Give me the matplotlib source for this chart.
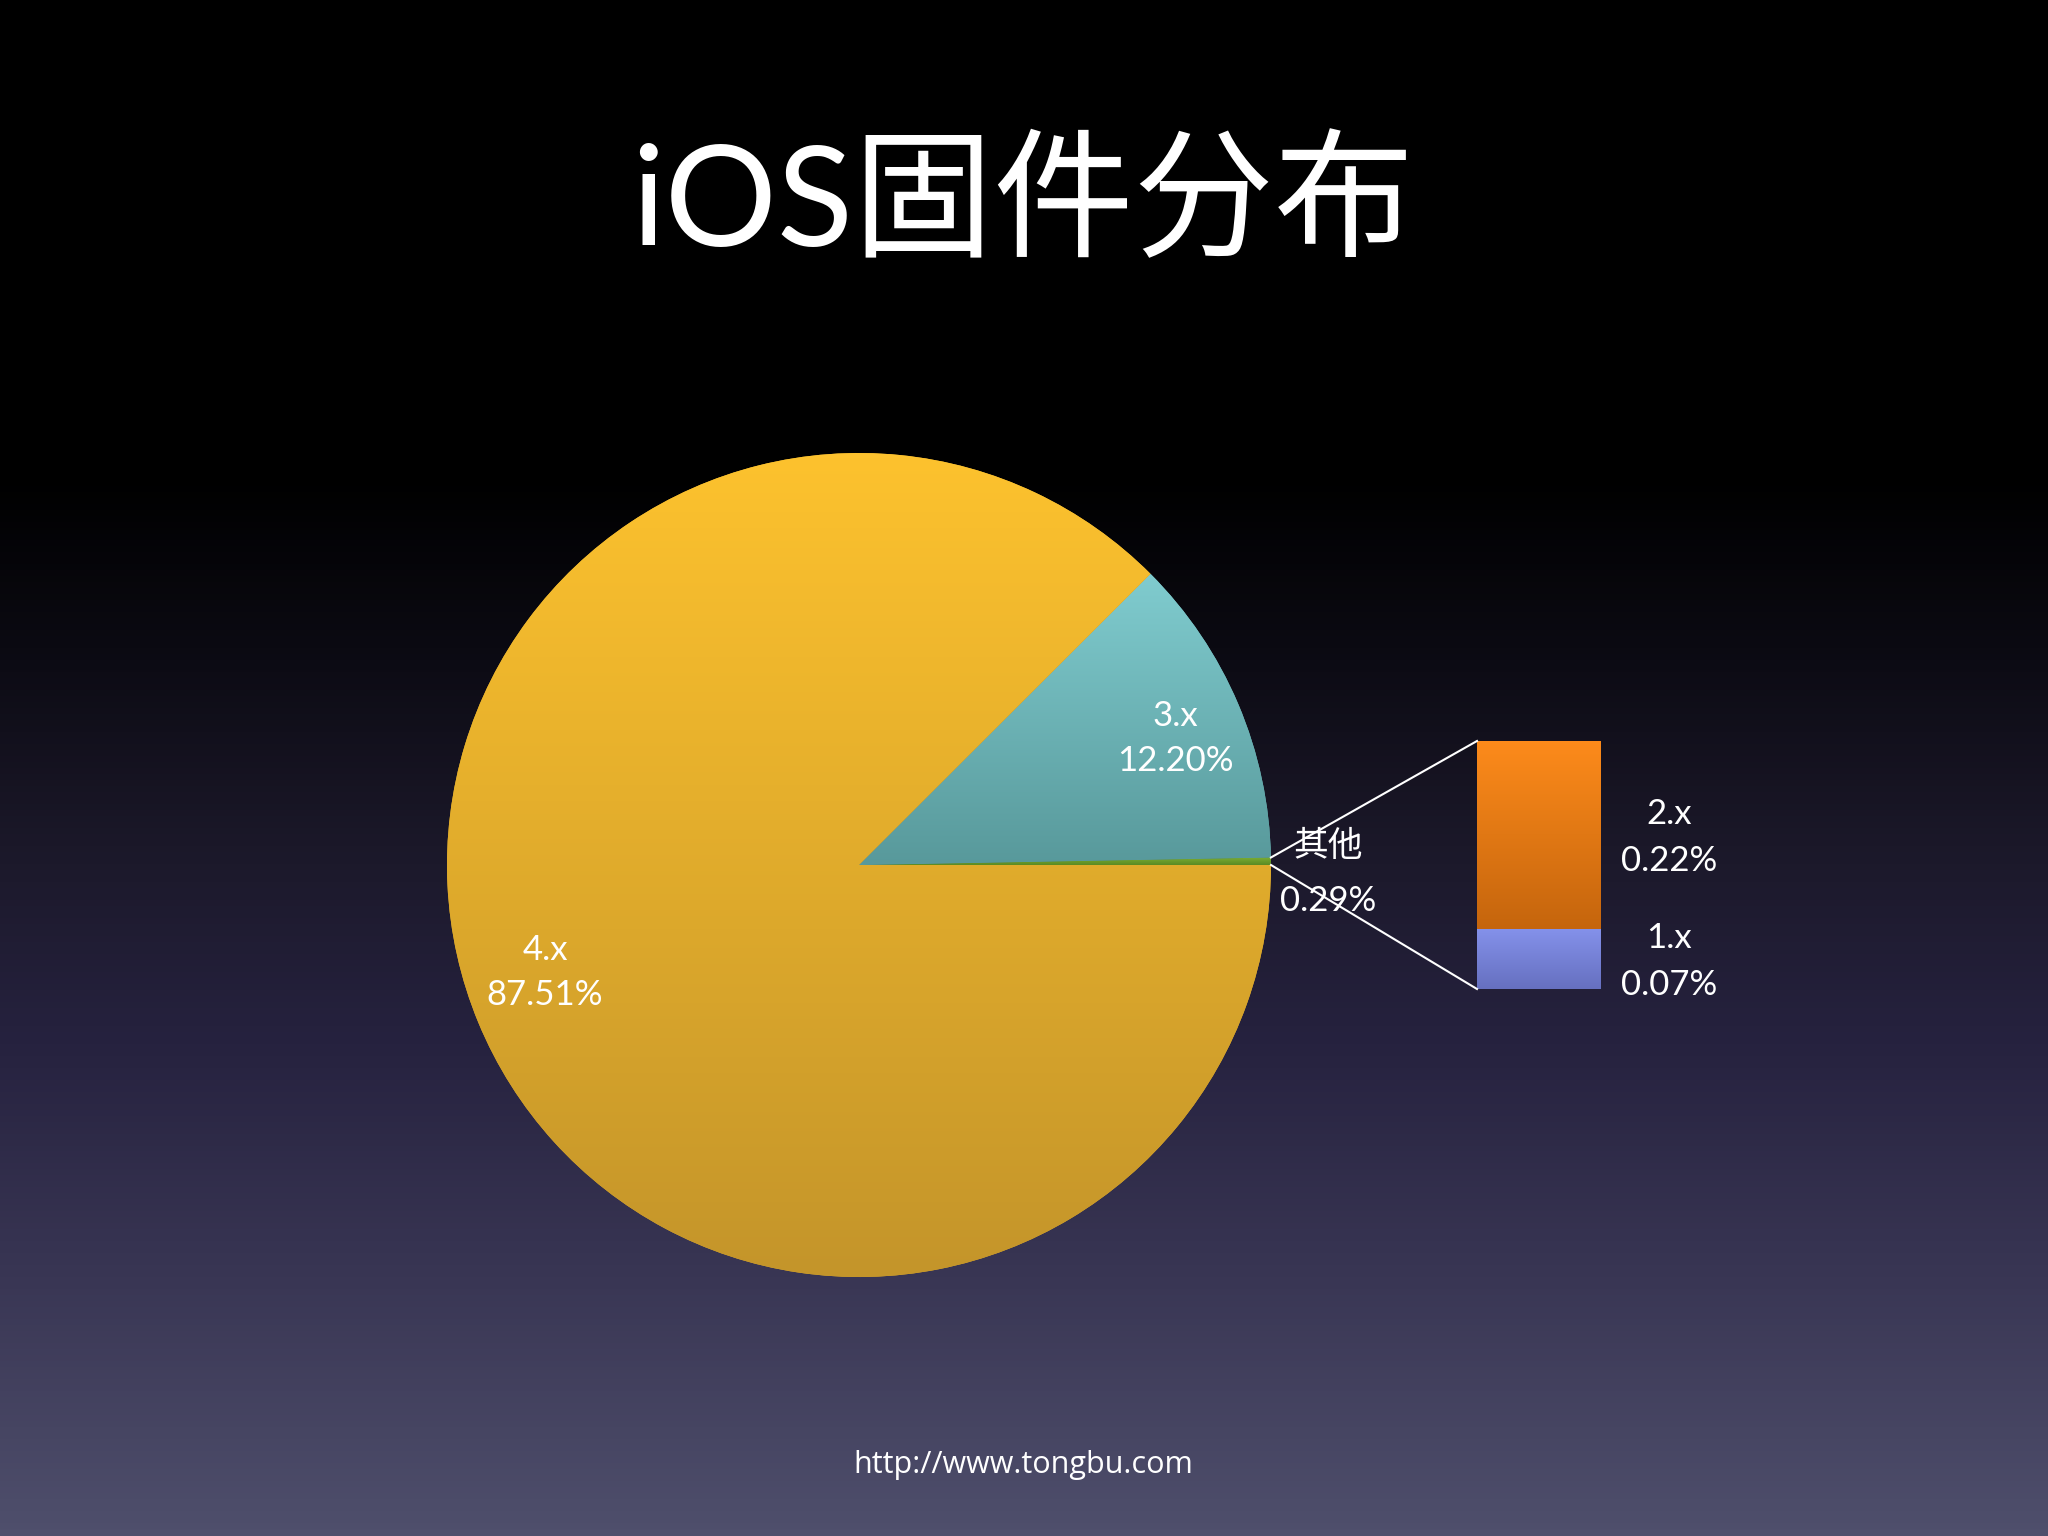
import numpy as np
import matplotlib.pyplot as plt
from matplotlib.colors import LinearSegmentedColormap

# data
pie_labels = ['其他', '3.x', '4.x']
pie_values = [0.29, 12.20, 87.51]
bar_labels = ['1.x', '2.x']
bar_values = [0.07, 0.22]

fonts = ['Lato', 'Noto Sans CJK SC', 'DejaVu Sans']
W, H = 2048, 1536

fig = plt.figure(figsize=(20.48, 15.36), dpi=100)
ax = fig.add_axes([0, 0, 1, 1])


def grad(c_top, c_bot):
    return LinearSegmentedColormap.from_list('g', [c_top, c_bot])


def fill_gradient(patch, c_top, c_bot, z):
    bb = patch.get_path().get_extents()
    if patch.get_transform() != ax.transData:
        bb = patch.get_extents().transformed(ax.transData.inverted())
    im = ax.imshow(np.linspace(0, 1, 256).reshape(-1, 1), cmap=grad(c_top, c_bot),
                   extent=(bb.x0, bb.x1, bb.y0, bb.y1), origin='upper',
                   aspect='auto', zorder=z, interpolation='bilinear')
    im.set_clip_path(patch)


# fondo degradado
bg = LinearSegmentedColormap.from_list('bg', [(0, '#000000'), (0.31, '#000000'), (0.42, '#0b0a12'),
                                              (0.55, '#1b1829'), (0.68, '#26223f'),
                                              (0.84, '#3a3755'), (1.0, '#4f4f6c')])
ax.imshow(np.linspace(0, 1, 512).reshape(-1, 1), cmap=bg, extent=(0, W, 0, H),
          origin='upper', aspect='auto', zorder=0)

# pastel
cx, cy, r = 859, H - 865, 412
wedges, _ = ax.pie(pie_values, startangle=0, counterclock=True, center=(cx, cy), radius=r,
                   colors=['#6a9a2e', '#6bb4b6', '#e2ae2c'], wedgeprops=dict(linewidth=0))
pie_grads = [('#7cae34', '#5a8a24'), ('#80cccf', '#58999b'), ('#fdc22e', '#c4952a')]
for w, (ct, cb) in zip(wedges, pie_grads):
    w.set_zorder(2)
    fill_gradient(w, ct, cb, 3)

# barra de "otros"
bar_x, bar_w = 1539, 124
bar_bottom = H - 989
scale = 248 / sum(bar_values)
bars = ax.bar([bar_x] * 2, [v * scale for v in bar_values], width=bar_w,
              bottom=[bar_bottom, bar_bottom + bar_values[0] * scale],
              color=['#7580d8', '#e87816'], linewidth=0, zorder=2)
bar_grads = [('#8491ea', '#6670c0'), ('#fd8b1b', '#c5650d')]
for b, (ct, cb) in zip(bars, bar_grads):
    fill_gradient(b, ct, cb, 3)

# líneas de conexión
other = wedges[0]
t1, t2 = np.radians(other.theta1), np.radians(other.theta2)
left = bar_x - bar_w / 2
top = bar_bottom + sum(bar_values) * scale
ax.plot([cx + r * np.cos(t2), left], [cy + r * np.sin(t2), top], color='white', lw=1.5, zorder=4)
ax.plot([cx + r * np.cos(t1), left], [cy + r * np.sin(t1), bar_bottom], color='white', lw=1.5, zorder=4)

# etiquetas
lab_kw = dict(color='white', fontsize=25, ha='center', va='center', family=fonts, zorder=5)
pie_pos = [(1328, 846, 901), (1175, 716, 761), (545, 950, 995)]
for name, val, (x, y1, y2) in zip(pie_labels, pie_values, pie_pos):
    ax.text(x, H - y1, name, **lab_kw)
    ax.text(x, H - y2, f'{val:.2f}%', **lab_kw)
bar_pos = [(1669, 938, 985), (1669, 814, 861)]
for name, val, (x, y1, y2) in zip(bar_labels, bar_values, bar_pos):
    ax.text(x, H - y1, name, **lab_kw)
    ax.text(x, H - y2, f'{val:.2f}%', **lab_kw)

ax.text(1023, H - 205, 'iOS固件分布', color='white', fontsize=101, ha='center', va='center',
        family=fonts, zorder=5)
ax.text(1023, H - 1465, 'http://www.tongbu.com', color='white', fontsize=22, ha='center',
        va='center', family=['Open Sans', 'DejaVu Sans'], zorder=5)

ax.set_xlim(0, W)
ax.set_ylim(0, H)
ax.axis('off')
fig.savefig('out.png', dpi=100)
